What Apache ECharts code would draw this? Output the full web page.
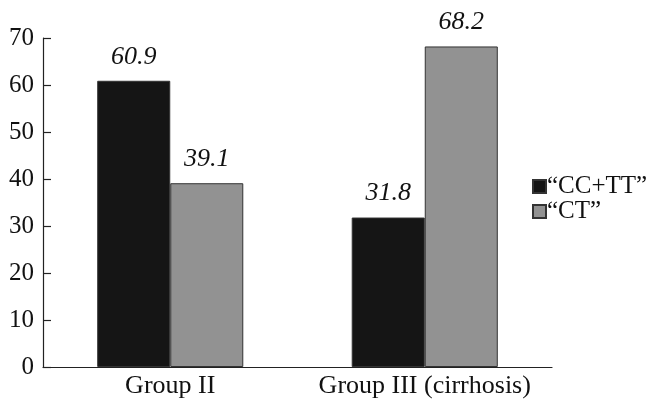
<!DOCTYPE html>
<html><head><meta charset="utf-8">
<script src="https://cdn.jsdelivr.net/npm/echarts@6/dist/echarts.min.js"></script>
<style>html,body{margin:0;padding:0;background:#fff}#c{width:650px;height:403px}</style>
</head><body><div id="c"></div>
<script>
const categories = ['Group II', 'Group III (cirrhosis)'];
const seriesNames = ['\u201CCC+TT\u201D', '\u201CCT\u201D'];
const ccttValues = [60.9, 31.8];
const ctValues = [39.1, 68.2];
const yTicks = [0, 10, 20, 30, 40, 50, 60, 70];

const font = '"Liberation Serif", "Times New Roman", serif';
const chart = echarts.init(document.getElementById('c'));
const labelStyle = {show: true, position: 'top', distance: 11, fontFamily: font, fontStyle: 'italic', fontSize: 26, color: '#111'};
chart.setOption({
  animation: false,
  grid: {left: 43, right: 98, top: 38, bottom: 36, containLabel: false},
  legend: {
    orient: 'vertical', left: 527, top: 169, itemWidth: 13, itemHeight: 13, itemGap: 0,
    textStyle: {fontFamily: font, fontSize: 25, lineHeight: 24, color: '#111', padding: [0,0,0,-4]},
    data: seriesNames.map(n => ({name: n, icon: 'rect'}))
  },
  xAxis: {
    type: 'category', data: categories,
    axisLine: {lineStyle: {color: '#222', width: 1.2}},
    axisTick: {show: false},
    axisLabel: {interval: 0, fontFamily: font, fontSize: 26, color: '#111', margin: 6}
  },
  yAxis: {
    type: 'value', min: yTicks[0], max: yTicks[yTicks.length-1], interval: 10,
    splitLine: {show: false},
    axisLine: {show: true, lineStyle: {color: '#222', width: 1.2}},
    axisTick: {show: true, inside: true, length: 8, lineStyle: {color: '#222', width: 1.2}},
    axisLabel: {fontFamily: font, fontSize: 25, color: '#111', margin: 9}
  },
  series: [
    {name: seriesNames[0], type: 'bar', data: ccttValues, barGap: '0%', barCategoryGap: '42.6%',
     itemStyle: {color: '#151515', borderColor: '#333', borderWidth: 1}, label: labelStyle},
    {name: seriesNames[1], type: 'bar', data: ctValues, barGap: '0%', barCategoryGap: '42.6%',
     itemStyle: {color: '#929292', borderColor: '#333', borderWidth: 1}, label: labelStyle}
  ]
});
</script></body></html>
